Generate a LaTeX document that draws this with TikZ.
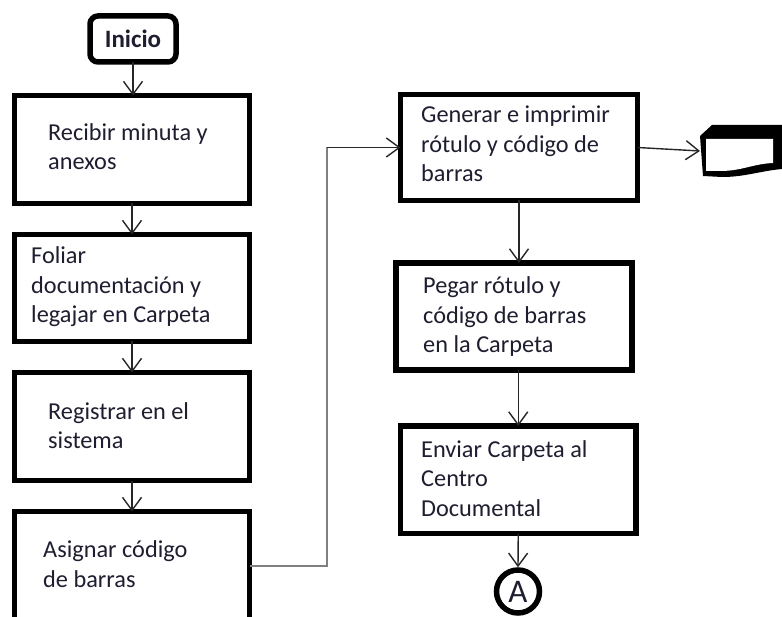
\documentclass[tikz,border=0pt]{standalone}
\usepackage{fontspec}
\setmainfont{Carlito}
\usetikzlibrary{arrows.meta}
\definecolor{ink}{HTML}{1E1E30}
\definecolor{loopgray}{HTML}{808080}
\tikzset{
  stepbox/.style={draw=black, line width=5.5pt, fill=white, rectangle, inner sep=0pt, outer sep=0pt},
  startbox/.style={stepbox, rounded corners=8pt, font=\fontsize{25}{28}\selectfont\bfseries, text=ink},
  txt/.style={anchor=base west, inner sep=0pt, align=left, text=ink, font=\fontsize{24.3}{29.5}\selectfont},
  arr/.style={draw=black!85, line width=1.4pt, -{Straight Barb[length=13pt,width=19pt,line width=1.4pt]}},
  connector/.style={draw=black, line width=5.5pt, fill=white, circle, inner sep=0pt, minimum size=43pt, text=ink, font=\fontsize{33}{33}\selectfont}
}
\begin{document}
\begin{tikzpicture}[x=1pt, y=-1pt]
\useasboundingbox (0,0) rectangle (782,617);
\clip (0,0) rectangle (782,617);

% start terminal
\node[startbox, minimum width=86pt, minimum height=46pt] (ini) at (133,39) {Inicio};

% left column of steps
\node[stepbox, minimum width=235pt, minimum height=108pt] (b1) at (132,149.5) {};
\node[stepbox, minimum width=235pt, minimum height=107pt] (b2) at (132,288) {};
\node[stepbox, minimum width=235pt, minimum height=108pt] (b3) at (132,426.5) {};
\node[stepbox, minimum width=235pt, minimum height=108.5pt] (b4) at (132,565.75) {};

% right column of steps
\node[stepbox, minimum width=237pt, minimum height=106pt] (b5) at (519,147.5) {};
\node[stepbox, minimum width=236pt, minimum height=107pt] (b6) at (514,316.5) {};
\node[stepbox, minimum width=235.5pt, minimum height=107.5pt] (b7) at (518.25,479.75) {};

% off-page connector
\node[connector] (A) at (518,591.5) {A};

% step texts (placed by the baseline of their last line)
\node[txt] (t1) at (48,170) {Recibir minuta y\\anexos};
\node[txt] (t2) at (31,323) {Foliar\\documentación y\\legajar en Carpeta};
\node[txt] (t3) at (48,449) {Registrar en el\\sistema};
\node[txt] (t4) at (43,587) {Asignar código\\de barras};
\node[txt] (t5) at (421,182) {Generar e imprimir\\rótulo y código de\\barras};
\node[txt] (t6) at (423,353) {Pegar rótulo y\\código de barras\\en la Carpeta};
\node[txt] (t7) at (421,516) {Enviar Carpeta al\\Centro\\Documental};

% printed label (document symbol)
\fill[black] (700,136) -- (712,125) -- (782,125) -- (782,169)
  .. controls (760,171) and (745,177) .. (722,177) -- (703,176) -- cycle;
\fill[white] (706,139) -- (773,139) -- (773,163)
  .. controls (752,164) and (742,171) .. (720,171) -- (706,171) -- cycle;
\coordinate (docin) at (700,151);

% flow arrows, left column
\draw[arr] (ini.south) -- (ini.south |- b1.north);
\draw[arr] (b1.south) -- (b2.north);
\draw[arr] (b2.south) -- (b3.north);
\draw[arr] (b3.south) -- (b4.north);

% link from the left column to the right column
\coordinate (bend) at (327,147.5);
\draw[draw=loopgray, line width=2.2pt] (b4.east) -| (bend);
\draw[arr] (bend) -- (b5.west);

% flow arrows, right column
\draw[arr] (b5.east) -- (docin);
\draw[arr] (b5.south) -- (b5.south |- b6.north);
\draw[arr] (b7.north |- b6.south) -- (b7.north);
\draw[arr] (b7.south) -- (A.north);
\end{tikzpicture}
\end{document}
